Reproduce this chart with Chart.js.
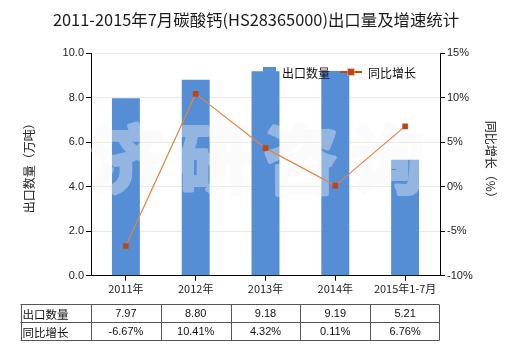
<!DOCTYPE html>
<html>
<head>
<meta charset="utf-8">
<script src="https://cdn.jsdelivr.net/npm/chart.js@4/dist/chart.umd.min.js"></script>
<style>
  html, body { margin: 0; padding: 0; background: #fff; }
  #wrap { width: 520px; height: 350px; position: relative; }
</style>
</head>
<body>
<div id="wrap"><canvas id="c" width="520" height="350"></canvas></div>
<script>
// Export volume of calcium carbonate (HS28365000), 2011 – Jul 2015
const categories = ['2011年', '2012年', '2013年', '2014年', '2015年1-7月'];
const exportVolume = [7.97, 8.80, 9.18, 9.19, 5.21];      // 万吨
const yoyGrowth = [-6.67, 10.41, 4.32, 0.11, 6.76];      // %
const volumeAxis = { min: 0, max: 10, step: 2 };
const growthAxis = { min: -10, max: 15, step: 5 };
const seriesNames = ['出口数量', '同比增长'];

const titleText = '2011-2015年7月碳酸钙(HS28365000)出口量及增速统计';
const leftTitle = '出口数量（万吨）';
const rightTitle = '同比增长（%）';
const watermark = ['济', '研', '咨', '询'];

const FONT = '"Liberation Sans", "Noto Sans CJK SC", sans-serif';
const CJK = '"Noto Sans CJK SC", "Liberation Sans", sans-serif';
const BAR = '#558ED5';
const LINE = '#E38445';
const MARK = '#C2450F';

// heavy watermark glyphs, rendered opaque off-screen then blended once
function watermarkLayer(w, h, cx, cy) {
  const off = document.createElement('canvas');
  off.width = w; off.height = h;
  const o = off.getContext('2d');
  o.font = 'bold 74px ' + CJK;
  o.fillStyle = '#f5f5f5';
  o.strokeStyle = '#f5f5f5';
  o.lineWidth = 4;
  o.lineJoin = 'round';
  o.textAlign = 'center';
  o.textBaseline = 'middle';
  watermark.forEach((ch, i) => {
    const x = cx + (i - 1.5) * 87;
    o.strokeText(ch, x, cy);
    o.fillText(ch, x, cy);
  });
  return off;
}

const decorations = {
  id: 'decorations',
  afterDatasetDraw(chart, args) {
    if (args.meta.type !== 'bar') return;
    const ctx = chart.ctx, a = chart.chartArea;
    const layer = watermarkLayer(chart.width, chart.height, (a.left + a.right) / 2 - 8, a.top + 106);
    ctx.save();
    ctx.globalAlpha = 0.38;
    ctx.drawImage(layer, 0, 0);
    ctx.restore();
  },
  afterDraw(chart) {
    const ctx = chart.ctx, a = chart.chartArea;
    ctx.save();
    // title
    ctx.fillStyle = '#1a1a1a';
    ctx.font = '16.4px ' + CJK;
    ctx.textAlign = 'center';
    ctx.textBaseline = 'middle';
    ctx.fillText(titleText, 256, 20);

    // axis titles
    ctx.font = '12px ' + CJK;
    ctx.fillStyle = '#222';
    ctx.save();
    ctx.translate(29, (a.top + a.bottom) / 2 + 1);
    ctx.rotate(-Math.PI / 2);
    ctx.fillText(leftTitle, 0, 0);
    ctx.restore();
    ctx.save();
    ctx.translate(491, (a.top + a.bottom) / 2 - 2);
    ctx.rotate(Math.PI / 2);
    ctx.fillText(rightTitle, 0, 0);
    ctx.restore();

    // legend
    const ly = a.top + 19;
    ctx.fillStyle = BAR;
    ctx.fillRect(263, ly - 5, 13, 11);
    ctx.fillStyle = '#111';
    ctx.textAlign = 'left';
    ctx.font = '12px ' + CJK;
    ctx.fillText(seriesNames[0], 282, ly + 1);
    ctx.strokeStyle = MARK;
    ctx.lineWidth = 2;
    ctx.beginPath();
    ctx.moveTo(340, ly); ctx.lineTo(362, ly);
    ctx.stroke();
    ctx.fillStyle = 'rgba(240,150,110,0.6)';
    ctx.fillRect(347, ly - 4, 8, 8);
    ctx.fillStyle = MARK;
    ctx.fillRect(348, ly - 3, 6, 6);
    ctx.fillStyle = '#111';
    ctx.fillText(seriesNames[1], 368, ly + 1);

    // data table
    const x = chart.scales.x;
    const n = categories.length;
    const step = (a.right - a.left) / n;
    const tTop = a.bottom + 28.6, rowH = 18;
    const tLeft = 20.5;
    ctx.strokeStyle = '#555';
    ctx.lineWidth = 1;
    ctx.beginPath();
    for (let r = 0; r <= 2; r++) {
      const yy = Math.round(tTop + r * rowH) + 0.5;
      ctx.moveTo(tLeft, yy); ctx.lineTo(a.right - 1, yy);
    }
    const cols = [tLeft];
    for (let i = 0; i <= n; i++) cols.push(a.left + i * step - (i === n ? 1 : 0));
    cols.forEach(cx => {
      const xx = Math.round(cx) + 0.5;
      ctx.moveTo(xx, Math.round(tTop) + 0.5);
      ctx.lineTo(xx, Math.round(tTop + 2 * rowH) + 0.5);
    });
    ctx.stroke();
    ctx.font = '11.5px ' + CJK;
    ctx.fillStyle = '#111';
    ctx.textAlign = 'left';
    ctx.fillText(seriesNames[0], tLeft + 2, tTop + rowH / 2 + 1);
    ctx.fillText(seriesNames[1], tLeft + 2, tTop + rowH * 1.5 + 1);
    ctx.font = '11px ' + FONT;
    ctx.textAlign = 'center';
    for (let i = 0; i < n; i++) {
      const px = x.getPixelForValue(i);
      ctx.fillText(exportVolume[i].toFixed(2), px, tTop + rowH / 2 + 1);
      ctx.fillText(yoyGrowth[i].toFixed(2) + '%', px, tTop + rowH * 1.5 + 1);
    }
    ctx.restore();
  }
};

new Chart(document.getElementById('c'), {
  data: {
    labels: categories,
    datasets: [
      {
        type: 'bar',
        label: seriesNames[0],
        data: exportVolume,
        yAxisID: 'y',
        backgroundColor: BAR,
        borderWidth: 0,
        categoryPercentage: 1,
        barPercentage: 0.4,
        order: 2
      },
      {
        type: 'line',
        label: seriesNames[1],
        data: yoyGrowth,
        yAxisID: 'y1',
        borderColor: LINE,
        borderWidth: 1.2,
        pointStyle: 'rect',
        pointRadius: 4,
        pointBackgroundColor: MARK,
        pointBorderColor: MARK,
        pointBorderWidth: 0,
        tension: 0,
        order: 1
      }
    ]
  },
  options: {
    responsive: false,
    animation: false,
    devicePixelRatio: 1,
    layout: { padding: { top: 53, left: 0, right: 0, bottom: 0 } },
    plugins: { legend: { display: false }, tooltip: { enabled: false }, title: { display: false } },
    scales: {
      x: {
        offset: true,
        grid: { display: true, drawOnChartArea: false, offset: false, tickLength: 5, tickColor: '#000' },
        border: { color: '#000', width: 1 },
        ticks: { color: '#222', font: { size: 11, family: CJK }, padding: 2, maxRotation: 0, autoSkip: false },
        afterFit(s) { s.height = 74.3; }
      },
      y: {
        position: 'left',
        min: volumeAxis.min, max: volumeAxis.max,
        ticks: { stepSize: volumeAxis.step, color: '#222', font: { size: 11, family: FONT }, padding: 2,
                 callback: v => v.toFixed(1) },
        grid: { color: '#EBEBDD', tickColor: '#000', tickLength: 5 },
        border: { color: '#000', width: 1 },
        afterFit(s) { s.width = 91; }
      },
      y1: {
        position: 'right',
        min: growthAxis.min, max: growthAxis.max,
        ticks: { stepSize: growthAxis.step, color: '#222', font: { size: 11, family: FONT }, padding: 2,
                 callback: v => v + '%' },
        grid: { drawOnChartArea: false, tickColor: '#000', tickLength: 5 },
        border: { color: '#000', width: 1 },
        afterFit(s) { s.width = 80; }
      }
    }
  },
  plugins: [decorations]
});
</script>
</body>
</html>
